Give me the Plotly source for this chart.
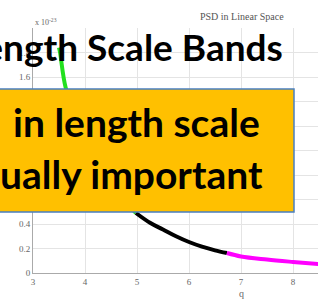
import plotly.graph_objects as go

# Data (PSD values in units of 1e-23)
green_q = [3.50, 3.52, 3.63, 3.8, 4.0, 4.25, 4.5, 4.75, 4.98]
green_v = [1.84, 1.80, 1.51, 1.33, 1.09, 0.88, 0.72, 0.59, 0.49]
black_q = [4.98, 5.25, 5.5, 5.75, 6.0, 6.25, 6.5, 6.73]
black_v = [0.49, 0.41, 0.355, 0.30, 0.253, 0.215, 0.185, 0.163]
mag_q = [6.73, 7.0, 7.5, 8.0, 8.5]
mag_v = [0.163, 0.135, 0.11, 0.09, 0.072]

x_ticks = [3, 4, 5, 6, 7, 8]
y_ticks = [0, 0.2, 0.4, 0.6, 0.8, 1.0, 1.2, 1.4, 1.6, 1.8, 2.0]
y_labels = ["0", "0.2", "0.4", "0.6", "0.8", "1", "1.2", "1.4", "1.6", "1.8", ""]

W, H = 318, 304
L, R, T, B = 33, 0, 28, 31
pw, ph = W - L - R, H - T - B
XMAX = 3 + pw / 52.0


def px(x):
    return (x - L) / pw


def qx(x):
    return 3 + (x - L) / 52.0


def py(y):
    return (H - B - y) / ph


fig = go.Figure()
for qs, vs, col in [(green_q, green_v, "#22e01e"), (black_q, black_v, "#000000"), (mag_q, mag_v, "#ff00ff")]:
    fig.add_trace(go.Scatter(x=qs, y=vs, mode="lines", line=dict(color=col, width=4, shape="spline"),
                             showlegend=False, hoverinfo="skip"))

tickfont = dict(family="Liberation Serif", size=9, color="#666666")
fig.update_layout(
    width=W, height=H,
    margin=dict(l=L, r=R, t=T, b=B),
    paper_bgcolor="white", plot_bgcolor="white",
    xaxis=dict(range=[3, XMAX], tickvals=x_ticks, showgrid=True, gridcolor="#e4e4e4",
               zeroline=False, showline=True, linecolor="#aaaaaa", ticks="", tickfont=tickfont),
    yaxis=dict(range=[0, 2.0], tickvals=y_ticks, ticktext=y_labels, showgrid=True, gridcolor="#e4e4e4",
               zeroline=False, showline=True, linecolor="#aaaaaa", ticks="", tickfont=tickfont),
)

fig.add_annotation(x=7, y=py(293), xref="x", yref="paper", text="q", showarrow=False,
                   font=dict(family="Liberation Serif", size=10, color="#666666"), yanchor="middle")
fig.add_annotation(x=px(33), y=py(22), xref="paper", yref="paper", text="x 10<sup>-23</sup>", showarrow=False,
                   xanchor="left", yanchor="middle", font=dict(family="Liberation Serif", size=8, color="#666666"))
fig.add_annotation(x=px(242), y=py(17), xref="paper", yref="paper", text="PSD in Linear Space", showarrow=False,
                   xanchor="center", yanchor="middle", font=dict(family="Liberation Serif", size=10, color="#555555"))

# Slide overlay
fig.add_annotation(x=qx(285), y=py(46), xref="x", yref="paper", text="<b>Length Scale Bands</b>",
                   showarrow=False, xanchor="right", yanchor="middle",
                   font=dict(family="Lato", size=37, color="black"))
fig.add_shape(type="rect", xref="paper", yref="paper", x0=px(-5), x1=px(294), y0=py(212), y1=py(89),
              fillcolor="#ffc000", line=dict(color="#4a7fc0", width=1.5), layer="above")
fig.add_annotation(x=px(262), y=py(122), xref="paper", yref="paper", text="<b>in length scale</b>",
                   showarrow=False, xanchor="right", yanchor="middle",
                   font=dict(family="Lato", size=39, color="black"))
fig.add_annotation(x=qx(265), y=py(174), xref="x", yref="paper", text="<b>ually important</b>",
                   showarrow=False, xanchor="right", yanchor="middle",
                   font=dict(family="Lato", size=39, color="black"))

fig.write_html("out.html", config={"displayModeBar": False},
               post_script="document.body.style.margin='0';document.body.style.overflow='hidden';")
